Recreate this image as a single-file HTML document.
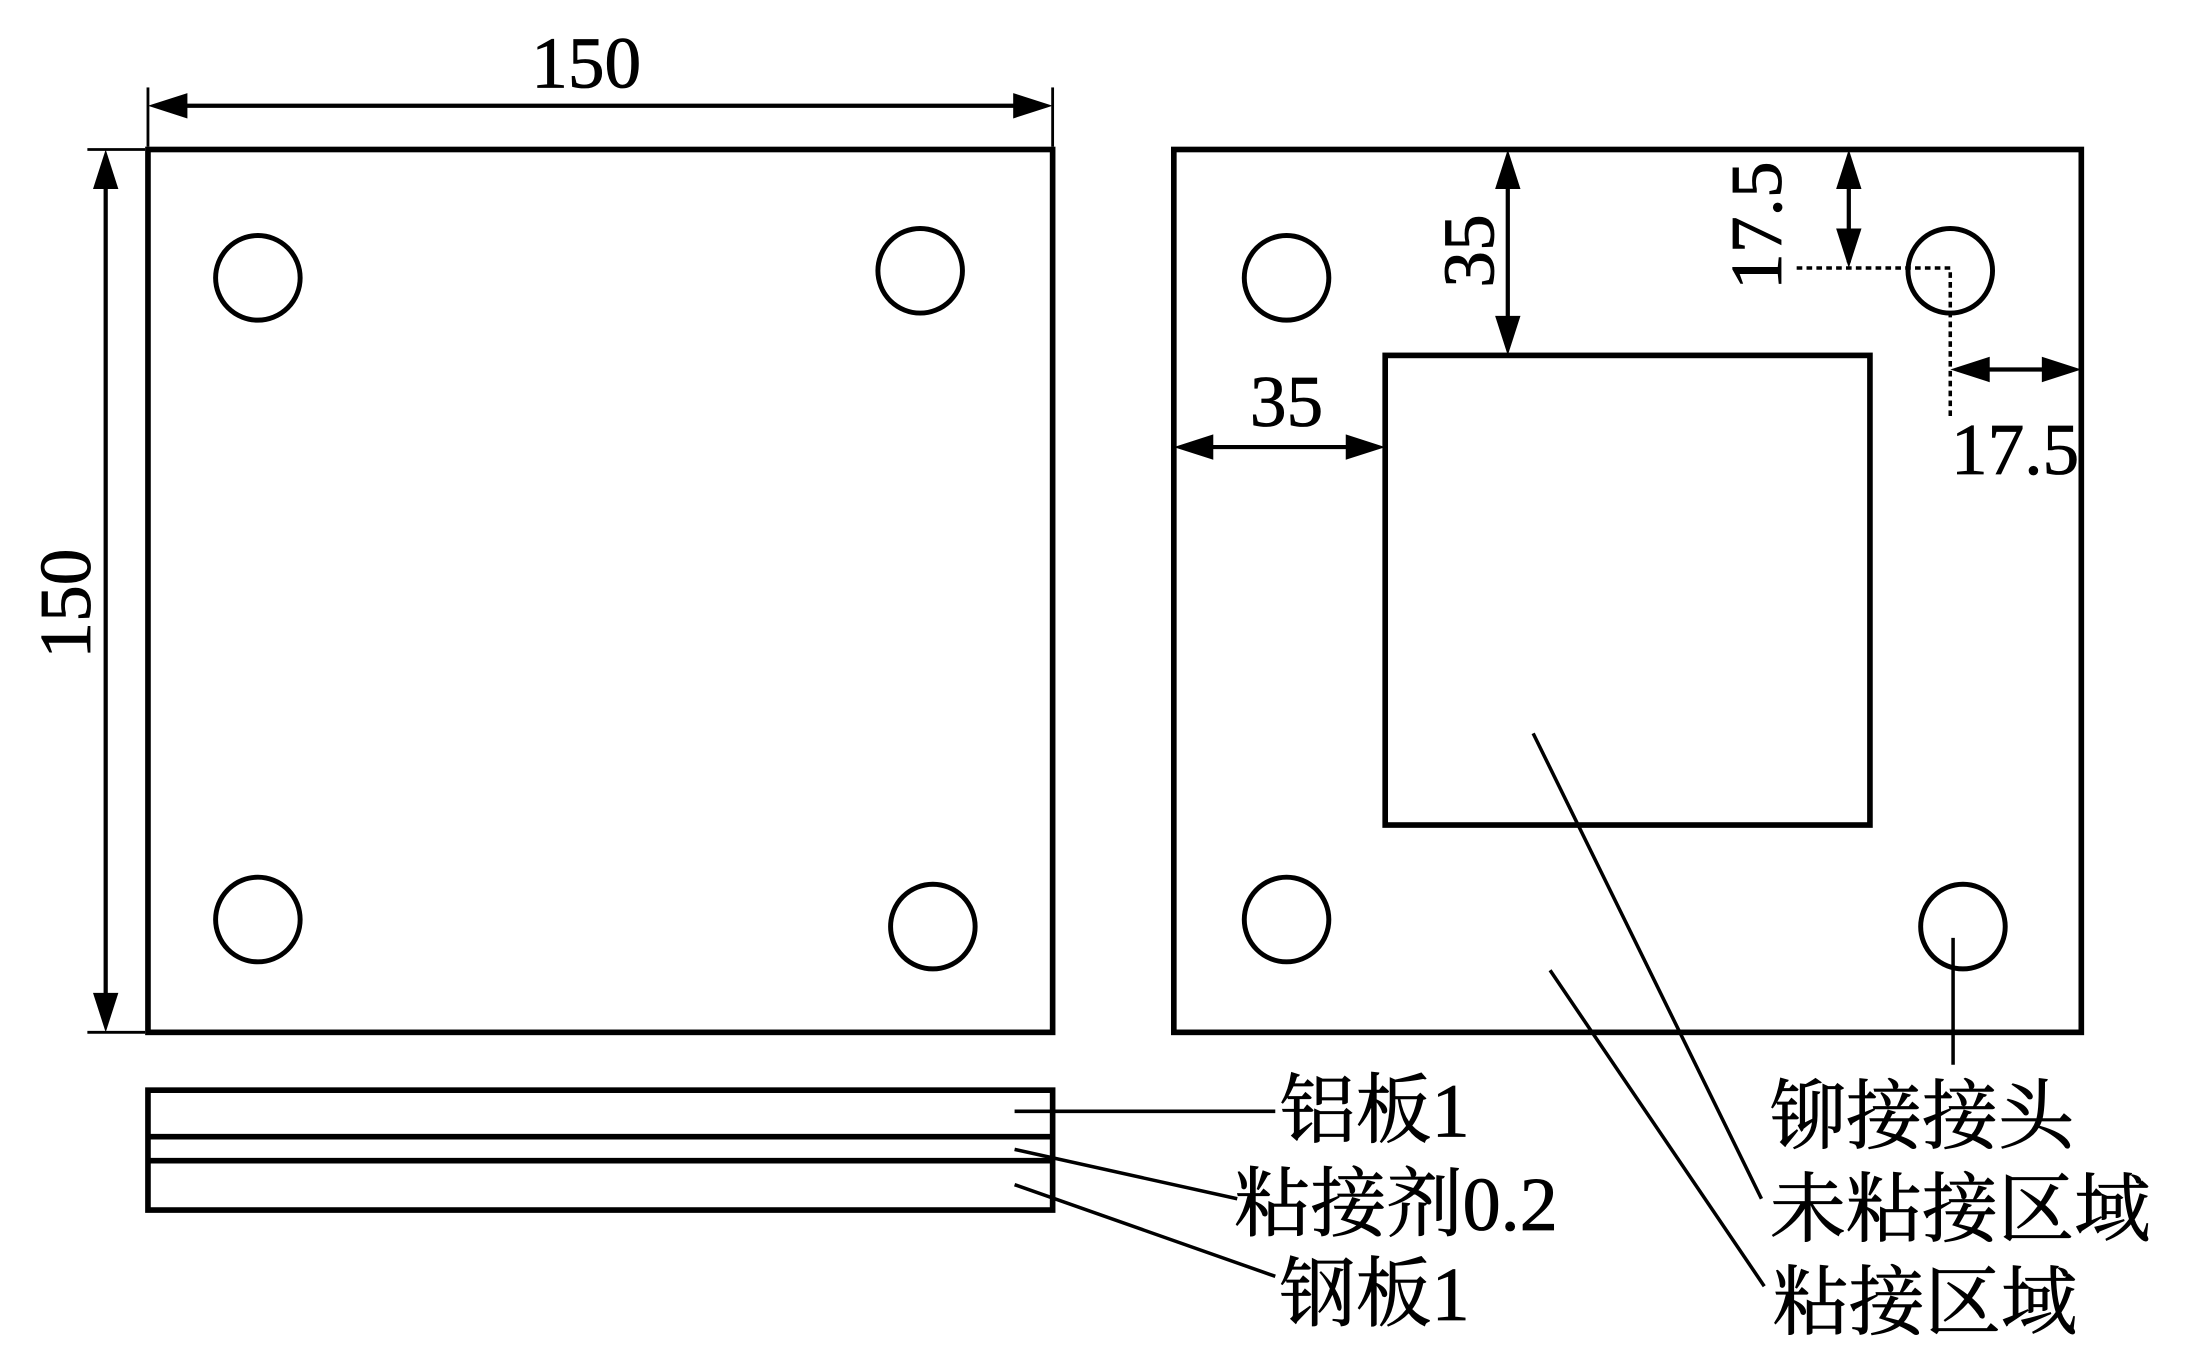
<!DOCTYPE html>
<html><head><meta charset="utf-8"><style>
html,body{margin:0;padding:0;background:#fff;}
svg{display:block;}
text{font-family:"Liberation Serif","Noto Serif CJK SC",serif;fill:#000;}
</style></head><body>
<svg width="2187" height="1368" viewBox="0 0 1552 970" preserveAspectRatio="none" xmlns="http://www.w3.org/2000/svg">
<g stroke="#000" fill="none">
<rect x="105" y="106" width="642" height="626" stroke-width="4"/>
<circle cx="183" cy="197" r="30" stroke-width="3.5"/>
<circle cx="653" cy="192" r="30" stroke-width="3.5"/>
<circle cx="183" cy="652" r="30" stroke-width="3.5"/>
<circle cx="662" cy="657" r="30" stroke-width="3.5"/>
<line x1="105" y1="62" x2="105" y2="104" stroke-width="2"/>
<line x1="747" y1="62" x2="747" y2="104" stroke-width="2"/>
<line x1="110" y1="75" x2="742" y2="75" stroke-width="3"/>
<line x1="62" y1="106" x2="103" y2="106" stroke-width="2"/>
<line x1="62" y1="732" x2="103" y2="732" stroke-width="2"/>
<line x1="75" y1="111" x2="75" y2="727" stroke-width="3"/>
<rect x="833" y="106" width="644" height="626" stroke-width="4"/>
<rect x="983" y="252" width="344" height="333" stroke-width="4"/>
<circle cx="913" cy="197" r="30" stroke-width="3.5"/>
<circle cx="1384" cy="192" r="30" stroke-width="3.5"/>
<circle cx="913" cy="652" r="30" stroke-width="3.5"/>
<circle cx="1393" cy="657" r="30" stroke-width="3.5"/>
<line x1="1070" y1="111" x2="1070" y2="247" stroke-width="3"/>
<line x1="838" y1="317" x2="978" y2="317" stroke-width="3"/>
<line x1="1312" y1="111" x2="1312" y2="186" stroke-width="3"/>
<line x1="1389" y1="262" x2="1472" y2="262" stroke-width="3"/>
<polyline points="1275,190 1384,190 1384,298" stroke-width="2.5" stroke-dasharray="4,3"/>
<line x1="1088" y1="520" x2="1250" y2="850" stroke-width="2.5"/>
<line x1="1100" y1="688" x2="1252" y2="912" stroke-width="2.5"/>
<line x1="1386" y1="665" x2="1386" y2="755" stroke-width="2.5"/>
<rect x="105" y="773" width="642" height="85" stroke-width="4"/>
<line x1="105" y1="806" x2="747" y2="806" stroke-width="4"/>
<line x1="105" y1="823" x2="747" y2="823" stroke-width="4"/>
<line x1="720" y1="788" x2="905" y2="788" stroke-width="2.5"/>
<line x1="720" y1="815" x2="878" y2="850" stroke-width="2.5"/>
<line x1="720" y1="840" x2="905" y2="905" stroke-width="2.5"/>
</g>
<g fill="#000">
<polygon points="105,75 133,66 133,84"/>
<polygon points="747,75 719,66 719,84"/>
<polygon points="75,106 66,134 84,134"/>
<polygon points="75,732 66,704 84,704"/>
<polygon points="1070,106 1061,134 1079,134"/>
<polygon points="1070,252 1061,224 1079,224"/>
<polygon points="833,317 861,308 861,326"/>
<polygon points="983,317 955,308 955,326"/>
<polygon points="1312,106 1303,134 1321,134"/>
<polygon points="1312,190 1303,162 1321,162"/>
<polygon points="1384,262 1412,253 1412,271"/>
<polygon points="1477,262 1449,253 1449,271"/>
</g>
<g font-size="52" stroke="#000" stroke-width="0.6">
<text x="416" y="62" text-anchor="middle">150</text>
<text transform="translate(64,428) rotate(-90)" text-anchor="middle">150</text>
<text transform="translate(1060,178) rotate(-90)" text-anchor="middle">35</text>
<text x="913" y="302" text-anchor="middle">35</text>
<text transform="translate(1264,160) rotate(-90)" text-anchor="middle">17.5</text>
<text x="1430" y="336" text-anchor="middle">17.5</text>
</g>
<g font-size="54" stroke="#000" stroke-width="0.6">
<text x="908" y="806">铝板1</text>
<text x="876" y="872">粘接剂0.2</text>
<text x="908" y="936">钢板1</text>
<text x="1256" y="810">铆接接头</text>
<text x="1256" y="876">未粘接区域</text>
<text x="1258" y="942">粘接区域</text>
</g>
</svg>
</body></html>
